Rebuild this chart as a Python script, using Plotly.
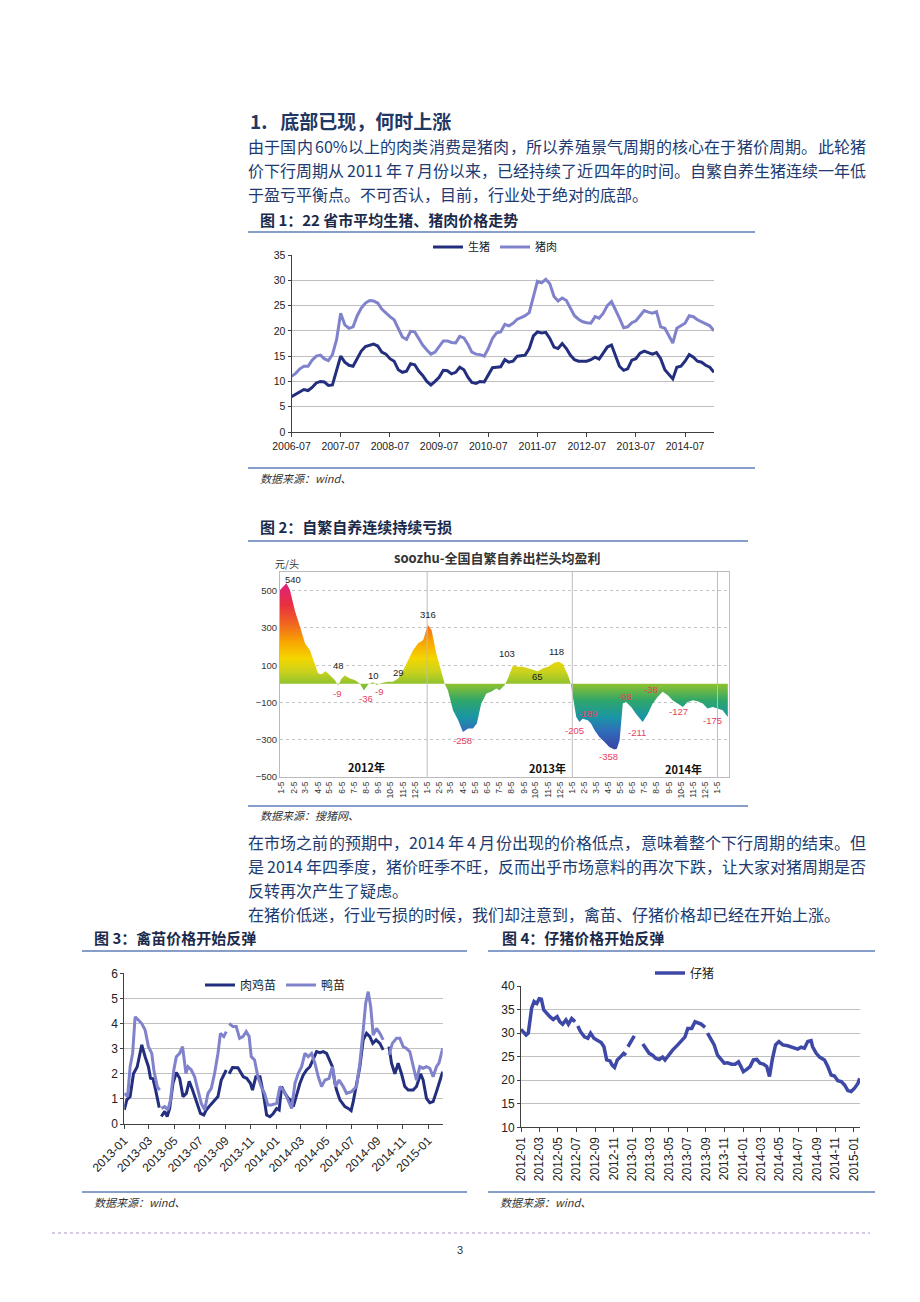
import plotly.graph_objects as go
import pandas as pd

W, H = 920, 1302
CJK = "Noto Sans CJK SC"
LAT = "Liberation Sans, Arial, sans-serif"
NAVY = "#1F3864"
BODY = "#203A70"
DARK = "#232E7E"
LIGHT = "#8083CC"

def fx(x):
    return x / W

def fy(y):
    return 1 - y / H

# ---------------- Figure 1: 22省市平均生猪、猪肉价格 ----------------
c1_months = pd.date_range("2006-07-01", periods=104, freq="MS")
c1_hog = [7.0, 7.5, 8.0, 8.4, 8.2, 8.8, 9.7, 10.0, 9.9, 9.2,
          9.3, 12.3, 15.0, 13.8, 13.2, 13.0, 14.5, 16.0, 16.9, 17.1,
          17.4, 17.0, 15.8, 15.4, 14.5, 14.0, 12.3, 11.8, 12.0, 13.5,
          13.3, 12.0, 11.2, 10.0, 9.3, 10.0, 10.8, 12.2, 12.1, 11.5,
          11.8, 12.8, 12.3, 10.8, 9.8, 9.6, 10.0, 9.9, 11.2, 12.7,
          12.8, 12.9, 14.3, 13.8, 14.0, 15.0, 15.1, 15.2, 16.5, 19.0,
          19.8, 19.6, 19.7, 18.5, 16.8, 16.5, 17.5, 16.5, 15.2, 14.3,
          14.0, 14.0, 14.0, 14.3, 14.8, 14.4, 15.5, 16.8, 17.2, 15.0,
          13.0, 12.2, 12.5, 14.2, 14.5, 15.6, 16.0, 15.7, 15.4, 15.7,
          14.5, 12.3, 11.5, 10.5, 12.8, 13.0, 14.0, 15.3, 14.8, 14.0,
          13.8, 13.2, 12.8, 11.8]
c1_pork = [11.0, 11.6, 12.5, 13.0, 13.0, 14.2, 15.0, 15.2, 14.5, 14.1,
           15.3, 18.3, 23.5, 21.2, 20.5, 20.8, 23.0, 24.5, 25.5, 26.0,
           25.9, 25.5, 24.3, 23.5, 22.8, 22.2, 20.5, 18.8, 18.3, 19.9,
           19.8, 18.5, 17.2, 16.2, 15.4, 15.8, 16.8, 18.0, 18.0, 17.7,
           17.6, 18.9, 18.6, 17.3, 15.8, 15.4, 15.3, 15.0, 16.5, 18.5,
           19.6, 19.8, 21.3, 21.0, 21.5, 22.3, 22.6, 23.0, 23.6, 27.0,
           29.8, 29.5, 30.2, 29.3, 26.8, 25.9, 26.5, 26.0, 24.5, 23.0,
           22.3, 21.8, 21.6, 21.5, 22.8, 22.5, 23.5, 25.0, 25.8, 24.2,
           22.5, 20.6, 20.8, 21.6, 22.0, 23.0, 24.0, 23.7, 23.5, 23.8,
           20.8, 20.5, 19.0, 17.6, 20.5, 21.0, 21.5, 23.0, 22.8, 22.2,
           21.8, 21.4, 21.0, 20.0]

# ---------------- Figure 2: 自繁自养头均盈利 ----------------
c2_dates = ["2012-01-01", "2012-01-17", "2012-01-26", "2012-02-07", "2012-02-20", "2012-03-04",
            "2012-03-16", "2012-03-29", "2012-04-06", "2012-04-14", "2012-04-25", "2012-05-05",
            "2012-05-18", "2012-05-26", "2012-06-04", "2012-06-12", "2012-06-25", "2012-07-07",
            "2012-07-20", "2012-07-30", "2012-08-10", "2012-08-22", "2012-08-31", "2012-09-12",
            "2012-09-29", "2012-10-11", "2012-10-24", "2012-11-06", "2012-11-18", "2012-12-01",
            "2012-12-13", "2012-12-26", "2013-01-07", "2013-01-16", "2013-01-28", "2013-02-10",
            "2013-02-18", "2013-02-26", "2013-03-11", "2013-03-24", "2013-04-05", "2013-04-18",
            "2013-04-30", "2013-05-10", "2013-05-21", "2013-06-03", "2013-06-15", "2013-06-28",
            "2013-07-06", "2013-07-19", "2013-07-27", "2013-08-09", "2013-08-21", "2013-09-03",
            "2013-09-15", "2013-09-28", "2013-10-10", "2013-10-23", "2013-11-05", "2013-11-21",
            "2013-12-02", "2013-12-12", "2013-12-25", "2014-01-01", "2014-01-06", "2014-01-15",
            "2014-01-23", "2014-01-31", "2014-02-13", "2014-02-21", "2014-03-02", "2014-03-14",
            "2014-03-27", "2014-04-08", "2014-04-21", "2014-04-27", "2014-05-04", "2014-05-12",
            "2014-05-20", "2014-06-02", "2014-06-14", "2014-07-01", "2014-07-14", "2014-07-26",
            "2014-08-08", "2014-08-20", "2014-09-02", "2014-09-14", "2014-09-27", "2014-10-10",
            "2014-10-22", "2014-11-04", "2014-11-16", "2014-11-29", "2014-12-11", "2014-12-24",
            "2015-01-05", "2015-01-18", "2015-01-31"]
c2_profit = [504, 540, 504, 396, 307, 217, 181, 109, 56, 52,
             68, 47, 20, -9, 29, 45, 29, 20, 2, -36,
             -2, 8, -7, 5, 11, 11, 29, 74, 127, 181,
             217, 235, 316, 289, 163, 56, 0, -34, -142, -196,
             -258, -240, -240, -213, -106, -52, -43, -25, -34, -7,
             29, 100, 91, 91, 83, 74, 68, 83, 91, 113,
             118, 106, 47, 0, -70, -178, -205, -187, -196, -213,
             -249, -285, -312, -339, -353, -348, -303, -106, -97, -124,
             -160, -205, -160, -106, -70, -43, -61, -88, -106, -124,
             -97, -88, -93, -106, -133, -124, -133, -142, -178]
c2_label_dates = ["2012-01-17", "2012-05-26", "2012-06-12", "2012-07-30", "2012-08-22",
                  "2012-08-31", "2012-10-24", "2013-01-07", "2013-04-05", "2013-08-09",
                  "2013-10-10", "2013-12-02", "2014-01-23", "2014-02-13", "2014-04-21",
                  "2014-05-20", "2014-07-01", "2014-08-20", "2014-10-10", "2015-01-31"]
c2_label_vals = [540, -9, 48, -36, 10, -9, 29, 316, -258, 103,
                 65, 118, -205, -189, -358, -98, -211, -38, -127, -175]
c2_label_offsets = [(7, -4), (-1, 8), (-6, -9), (2, 8), (0, -6), (2, 6), (0, -6), (0, -10),
                    (0, 9), (-6, -11), (0, 5), (-2, -10), (-5, 8), (0, -6), (-6, 6),
                    (-1, -6), (-6, 9), (-12, -1), (-4, 4), (-15, 4)]
c2_tick_dates = pd.date_range("2012-01-01", periods=38, freq="MS") + pd.Timedelta(days=4)
c2_tick_text = [f"{d.month}-5" for d in c2_tick_dates]
c2_year_bounds = ["2013-01-05", "2014-01-05", "2015-01-05"]
c2_year_labels = ["2012年", "2013年", "2014年"]

# ---------------- Figure 3: 禽苗价格 ----------------
broiler_dates = ["2013-01-01", "2013-01-07", "2013-01-15", "2013-01-23", "2013-02-01", "2013-02-12",
                 "2013-02-20", "2013-02-28", "2013-03-05", "2013-03-11", "2013-03-18", "2013-03-26",
                 "2013-03-29", "2013-03-31", "2013-04-08", "2013-04-14", "2013-04-20", "2013-04-28",
                 "2013-05-06", "2013-05-14", "2013-05-22", "2013-05-30", "2013-06-06", "2013-06-14",
                 "2013-06-23", "2013-07-03", "2013-07-11", "2013-07-17", "2013-07-27", "2013-08-06",
                 "2013-08-14", "2013-08-22", "2013-08-30", "2013-09-03", "2013-09-06", "2013-09-10",
                 "2013-09-18", "2013-10-01", "2013-10-14", "2013-10-22", "2013-10-31", "2013-11-05",
                 "2013-11-13", "2013-11-23", "2013-12-01", "2013-12-09", "2013-12-17", "2013-12-25",
                 "2014-01-02", "2014-01-08", "2014-01-14", "2014-01-22", "2014-01-30", "2014-02-05",
                 "2014-02-11", "2014-02-19", "2014-02-27", "2014-03-07", "2014-03-15", "2014-03-23",
                 "2014-03-31", "2014-04-08", "2014-04-16", "2014-04-24", "2014-05-02", "2014-05-08",
                 "2014-05-16", "2014-05-22", "2014-05-26", "2014-06-03", "2014-06-15", "2014-06-23",
                 "2014-06-30", "2014-07-05", "2014-07-13", "2014-07-21", "2014-07-29", "2014-08-06",
                 "2014-08-14", "2014-08-21", "2014-08-29", "2014-09-07", "2014-09-15", "2014-09-20",
                 "2014-09-29", "2014-10-05", "2014-10-13", "2014-10-21", "2014-10-29", "2014-11-06",
                 "2014-11-14", "2014-11-26", "2014-12-04", "2014-12-14", "2014-12-20", "2014-12-28",
                 "2015-01-05", "2015-01-13", "2015-01-21", "2015-02-05"]
broiler_vals = [0.56, 0.96, 1.09, 2.0, 2.28, 3.15, 2.68, 2.28, 1.82, 1.80,
                1.3, 0.65, None, 0.3, 0.5, 0.3, 0.62, 1.62, 2.05, 1.82,
                1.09, 1.22, 1.7, 1.35, 0.89, 0.42, 0.36, 0.56, 0.76, 0.96,
                1.09, 1.75, 2.0, 2.15, None, 2.0, 2.25, 2.24, 1.88, 1.82,
                1.62, 1.35, 1.88, 1.88, 1.22, 0.36, 0.29, 0.42, 0.62, 0.56,
                1.49, 1.22, 1.02, 0.96, 0.69, 1.15, 1.62, 1.95, 2.15, 2.28,
                2.55, 2.88, 2.84, 2.88, 2.81, 2.55, 2.28, 1.62, 1.35, 0.96,
                0.69, 0.62, 0.53, 0.89, 1.62, 2.28, 3.35, 3.61, 3.48, 3.21,
                3.35, 3.21, 2.95, None, 3.08, 2.42, 2.0, 2.42, 2.0, 1.49,
                1.35, 1.35, 1.49, 2.0, 1.75, 1.02, 0.85, 0.89, 1.29, 2.08]
duck_dates = ["2013-01-01", "2013-01-09", "2013-01-15", "2013-01-21", "2013-01-27", "2013-02-04",
              "2013-02-12", "2013-02-20", "2013-02-28", "2013-03-08", "2013-03-13", "2013-03-21",
              "2013-03-27", "2013-03-29", "2013-03-31", "2013-04-08", "2013-04-16", "2013-04-22",
              "2013-04-30", "2013-05-06", "2013-05-14", "2013-05-21", "2013-05-29", "2013-06-03",
              "2013-06-11", "2013-06-19", "2013-06-27", "2013-07-05", "2013-07-13", "2013-07-21",
              "2013-07-29", "2013-08-06", "2013-08-14", "2013-08-20", "2013-08-28", "2013-09-03",
              "2013-09-06", "2013-09-10", "2013-09-19", "2013-09-27", "2013-10-05", "2013-10-13",
              "2013-10-21", "2013-10-28", "2013-11-02", "2013-11-10", "2013-11-18", "2013-11-26",
              "2013-12-04", "2013-12-12", "2013-12-20", "2014-01-02", "2014-01-10", "2014-01-18",
              "2014-01-26", "2014-02-07", "2014-02-15", "2014-02-23", "2014-03-03", "2014-03-11",
              "2014-03-19", "2014-03-27", "2014-04-04", "2014-04-12", "2014-04-20", "2014-04-28",
              "2014-05-08", "2014-05-16", "2014-05-24", "2014-06-01", "2014-06-11", "2014-06-19",
              "2014-07-01", "2014-07-13", "2014-07-21", "2014-07-29", "2014-08-04", "2014-08-10",
              "2014-08-16", "2014-08-22", "2014-08-30", "2014-09-07", "2014-09-15", "2014-09-20",
              "2014-09-29", "2014-10-07", "2014-10-17", "2014-10-25", "2014-11-02", "2014-11-10",
              "2014-11-18", "2014-11-26", "2014-12-04", "2014-12-12", "2014-12-20", "2014-12-28",
              "2015-01-05", "2015-01-13", "2015-01-21", "2015-01-27", "2015-02-05"]
duck_vals = [1.22, 1.09, 2.28, 2.81, 4.27, 4.14, 4.0, 3.74, 3.08, 2.81,
             2.15, 1.49, 1.35, None, 0.62, 0.69, 0.56, 0.96, 2.15, 2.68,
             2.81, 3.08, 2.02, 2.28, 2.15, 1.88, 1.35, 0.82, 0.56, 1.22,
             1.42, 2.02, 2.81, 3.61, 3.48, 3.68, None, 4.0, 3.88, 3.88,
             3.41, 3.48, 3.68, 3.48, 2.68, 2.55, 1.88, 1.49, 1.22, 0.76,
             0.76, 0.82, 1.49, 1.35, 1.09, 0.62, 1.62, 2.02, 2.28, 2.81,
             2.68, 2.81, 2.42, 1.88, 1.49, 1.75, 1.82, 2.28, 1.49, 1.75,
             1.49, 1.22, 1.29, 1.49, 2.42, 3.74, 4.81, 5.27, 4.67, 3.54,
             3.81, 3.61, 3.35, None, 2.75, 3.21, 3.41, 3.41, 3.08, 3.01,
             2.88, 2.28, 1.75, 2.28, 2.22, 2.28, 2.22, 1.88, 2.28, 2.42,
             3.01]

# ---------------- Figure 4: 仔猪价格 ----------------
piglet_dates = ["2012-01-01", "2012-01-09", "2012-01-18", "2012-01-25", "2012-01-31", "2012-02-05",
                "2012-02-13", "2012-02-22", "2012-03-01", "2012-03-08", "2012-03-16", "2012-03-25",
                "2012-04-05", "2012-04-16", "2012-04-29", "2012-05-08", "2012-05-17", "2012-05-28",
                "2012-06-05", "2012-06-16", "2012-06-27", "2012-07-01", "2012-07-06", "2012-07-15",
                "2012-07-28", "2012-08-08", "2012-08-17", "2012-08-28", "2012-09-08", "2012-09-21",
                "2012-09-30", "2012-10-09", "2012-10-20", "2012-10-27", "2012-11-04", "2012-11-13",
                "2012-11-24", "2012-12-04", "2012-12-12", "2012-12-15", "2012-12-18", "2012-12-28",
                "2013-01-08", "2013-01-20", "2013-02-05", "2013-02-15", "2013-02-26", "2013-03-09",
                "2013-03-20", "2013-03-31", "2013-04-11", "2013-04-19", "2013-04-30", "2013-05-14",
                "2013-05-31", "2013-06-11", "2013-06-24", "2013-07-03", "2013-07-16", "2013-07-27",
                "2013-08-05", "2013-08-16", "2013-08-29", "2013-09-02", "2013-09-06", "2013-09-17",
                "2013-09-28", "2013-10-09", "2013-10-20", "2013-10-31", "2013-11-11", "2013-11-24",
                "2013-12-06", "2013-12-17", "2013-12-25", "2014-01-02", "2014-01-13", "2014-01-24",
                "2014-02-04", "2014-02-15", "2014-02-26", "2014-03-09", "2014-03-20", "2014-03-29",
                "2014-04-07", "2014-04-18", "2014-04-29", "2014-05-12", "2014-05-28", "2014-06-14",
                "2014-06-30", "2014-07-11", "2014-07-22", "2014-08-02", "2014-08-13", "2014-08-18",
                "2014-08-30", "2014-09-10", "2014-09-26", "2014-10-07", "2014-10-18", "2014-10-29",
                "2014-11-09", "2014-11-20", "2014-12-01", "2014-12-12", "2014-12-23", "2015-01-03",
                "2015-01-14", "2015-01-20"]
piglet_vals = [30.8, 30.1, 29.6, 30.0, 32.8, 35.3, 36.7, 36.3, 37.3, 37.2,
               34.9, 34.2, 33.5, 32.9, 33.5, 32.4, 31.9, 32.8, 31.9, 33.1,
               32.4, None, 31.5, 30.3, 29.2, 28.9, 30.0, 28.9, 28.5, 28.0,
               27.1, 24.3, 24.1, 23.2, 22.7, 24.3, 25.0, 25.7, 25.3, None,
               27.1, 28.2, 29.4, None, 27.7, 26.8, 25.7, 25.3, 24.6, 24.4,
               24.9, 24.3, 25.3, 26.4, 27.5, 28.4, 29.2, 31.0, 31.0, 32.4,
               32.1, 31.9, 31.2, None, 30.0, 28.9, 27.5, 25.3, 24.3, 23.6,
               23.7, 23.4, 23.4, 23.9, 22.9, 21.8, 22.3, 22.9, 24.3, 24.4,
               23.6, 23.4, 22.9, 20.8, 24.3, 27.5, 28.2, 27.5, 27.3, 27.0,
               26.6, 27.0, 26.8, 28.2, 28.4, 27.1, 25.7, 24.9, 24.3, 22.9,
               21.1, 20.9, 19.9, 19.7, 19.0, 17.8, 17.6, 18.3, 19.3, 20.4]

# ---------------- Text ----------------
heading = "1.\u00a0\u00a0\u00a0底部已现，何时上涨"
para1 = ["由于国内 60%以上的肉类消费是猪肉，所以养殖景气周期的核心在于猪价周期。此轮猪",
         "价下行周期从 2011 年 7 月份以来，已经持续了近四年的时间。自繁自养生猪连续一年低",
         "于盈亏平衡点。不可否认，目前，行业处于绝对的底部。"]
para1_justify = [True, True, False]
para2 = ["在市场之前的预期中，2014 年 4 月份出现的价格低点，意味着整个下行周期的结束。但",
         "是 2014 年四季度，猪价旺季不旺，反而出乎市场意料的再次下跌，让大家对猪周期是否",
         "反转再次产生了疑虑。",
         "在猪价低迷，行业亏损的时候，我们却注意到，禽苗、仔猪价格却已经在开始上涨。"]
para2_justify = [True, True, False, False]

fig = go.Figure()

fig.add_trace(go.Scatter(x=c1_months, y=c1_hog, name="生猪", mode="lines",
                         line=dict(color=DARK, width=3), xaxis="x", yaxis="y", legend="legend"))
fig.add_trace(go.Scatter(x=c1_months, y=c1_pork, name="猪肉", mode="lines",
                         line=dict(color=LIGHT, width=3), xaxis="x", yaxis="y", legend="legend"))

grad = [[0.0, "#3C3FA6"], [0.12, "#2F6DB8"], [0.2, "#1A95A6"], [0.3, "#2FA66A"],
        [0.4, "#8FC22E"], [0.47, "#C9D21E"], [0.55, "#F4D600"], [0.65, "#F8A600"],
        [0.76, "#F06420"], [0.87, "#E83040"], [1.0, "#E0207E"]]
fig.add_trace(go.Scatter(x=c2_dates, y=c2_profit, mode="lines", fill="tozeroy",
                         line=dict(width=0, color="rgba(0,0,0,0)"),
                         fillgradient=dict(type="vertical", colorscale=grad, start=-360, stop=540),
                         xaxis="x2", yaxis="y2", showlegend=False, hoverinfo="skip"))

fig.add_trace(go.Scatter(x=broiler_dates, y=broiler_vals, name="肉鸡苗", mode="lines",
                         line=dict(color=DARK, width=3), xaxis="x3", yaxis="y3", legend="legend2"))
fig.add_trace(go.Scatter(x=duck_dates, y=duck_vals, name="鸭苗", mode="lines",
                         line=dict(color=LIGHT, width=3), xaxis="x3", yaxis="y3", legend="legend2"))

fig.add_trace(go.Scatter(x=piglet_dates, y=piglet_vals, name="仔猪", mode="lines",
                         line=dict(color="#3E48A6", width=3.5), xaxis="x4", yaxis="y4", legend="legend3"))

annotations = []

def text(x, y, s, size, color=NAVY, bold=False, italic=False, xanchor="left", family=CJK):
    if bold:
        s = f"<b>{s}</b>"
    if italic:
        s = f"<i>{s}</i>"
    annotations.append(dict(x=fx(x), y=fy(y), xref="paper", yref="paper", text=s,
                            showarrow=False, xanchor=xanchor, yanchor="middle",
                            font=dict(family=family, size=size, color=color)))

def body_line(s, x0, x1, y, size, justify):
    """Lay out a line token by token; justified lines are spread to x1."""
    tokens = []
    buf = ""

    def flush():
        nonlocal buf
        if buf:
            w = sum(0.85 if c == "%" else 0.55 for c in buf)
            tokens.append((buf, w))
            buf = ""

    for ch in s:
        if ch == " ":
            flush()
            tokens.append((None, 0.2))
        elif ord(ch) < 128:
            buf += ch
        else:
            flush()
            tokens.append((ch, 1.0))
    flush()
    natural = sum(w for _, w in tokens) * size
    gap = (x1 - x0 - natural) / (len(tokens) - 1) if justify else 0.0
    pos = x0
    for t, w in tokens:
        wpx = w * size
        if t is not None:
            text(pos + wpx / 2, y, t, size, BODY, xanchor="center")
        pos += wpx + gap

text(248, 120, heading, 19, NAVY, bold=True)
for i, (line, j) in enumerate(zip(para1, para1_justify)):
    body_line(line, 248, 866, 146 + 24 * i, 16, j)
text(258, 219, "图 1：22 省市平均生猪、猪肉价格走势", 15, "#1B2A4A", bold=True)
text(258, 478, "数据来源：wind、", 11, "#333333", italic=True)
text(258, 526, "图 2：自繁自养连续持续亏损", 15, "#1B2A4A", bold=True)
text(497, 557, "soozhu-全国自繁自养出栏头均盈利", 13, "#333333", bold=True, xanchor="center")
text(287, 563, "元/头", 10, "#333333", xanchor="center")
text(258, 815, "数据来源：搜猪网、", 11, "#333333", italic=True)
for i, (line, j) in enumerate(zip(para2, para2_justify)):
    body_line(line, 248, 866, 842 + 24 * i, 16, j)
text(92, 937, "图 3：禽苗价格开始反弹", 15, "#1B2A4A", bold=True)
text(500, 937, "图 4：仔猪价格开始反弹", 15, "#1B2A4A", bold=True)
text(92, 1202, "数据来源：wind、", 11, "#333333", italic=True)
text(498, 1202, "数据来源：wind、", 11, "#333333", italic=True)
text(460, 1250, "3", 11, "#333333", xanchor="center", family=LAT)

for lab, (xx, yy) in zip(c2_year_labels, [(366, 767), (547, 768), (683, 769)]):
    text(xx, yy, lab, 11, "#111111", bold=True, xanchor="center")

for d, v, (dx, dy) in zip(c2_label_dates, c2_label_vals, c2_label_offsets):
    annotations.append(dict(x=d, y=v, xref="x2", yref="y2", text=str(v), showarrow=False,
                            xshift=dx, yshift=-dy, xanchor="center", yanchor="middle",
                            font=dict(family=LAT, size=9.5,
                                      color="#E8405E" if v < 0 else "#222222")))

shapes = []
RULE = "#5F7CB8"
for (x0, x1, y) in [(248, 755, 232), (248, 755, 468), (248, 748, 541), (248, 748, 806),
                    (82, 467, 951), (82, 467, 1192), (488, 875, 951), (488, 875, 1192)]:
    shapes.append(dict(type="line", xref="paper", yref="paper", x0=fx(x0), x1=fx(x1),
                       y0=fy(y), y1=fy(y), line=dict(color=RULE, width=1.5)))
shapes.append(dict(type="line", xref="paper", yref="paper", x0=fx(52), x1=fx(870),
                   y0=fy(1233), y1=fy(1233), line=dict(color="#C9B8DA", width=1.5, dash="dot")))
for d in c2_year_bounds:
    shapes.append(dict(type="line", xref="x2", yref="y2 domain", x0=d, x1=d, y0=0, y1=1,
                       line=dict(color="#BDBDBD", width=1)))

tick_font = dict(family=LAT, size=10.5, color="#222222")
axis_common = dict(showline=True, linecolor="#404040", linewidth=1, zeroline=False,
                   automargin=False)

fig.update_layout(
    width=W, height=H, margin=dict(l=0, r=0, t=0, b=0, pad=0, autoexpand=False),
    paper_bgcolor="white", plot_bgcolor="white",
    annotations=annotations, shapes=shapes,
    xaxis=dict(domain=[fx(291.5), fx(714)], anchor="y", type="date",
               range=["2006-07-01", "2015-02-01"], dtick="M12", tick0="2006-07-01",
               tickformat="%Y-%m", showgrid=False, ticks="outside", ticklen=4,
               tickcolor="#404040", tickfont=tick_font, **axis_common),
    yaxis=dict(domain=[fy(432), fy(255)], anchor="x", range=[0, 35], dtick=5,
               showgrid=True, gridcolor="#BFBFBF", ticks="outside", ticklen=3,
               tickcolor="#404040", tickfont=tick_font, **axis_common),
    xaxis2=dict(domain=[fx(280), fx(729)], anchor="y2", type="date",
                range=["2012-01-01", "2015-02-03"], tickmode="array",
                tickvals=list(c2_tick_dates), ticktext=c2_tick_text, tickangle=-90,
                showgrid=False, showline=True, linecolor="#BBBBBB", mirror=True,
                zeroline=False, ticks="", automargin=False,
                tickfont=dict(family=LAT, size=8.5, color="#333333")),
    yaxis2=dict(domain=[fy(777), fy(572)], anchor="x2", range=[-500, 600],
                tickmode="array", tickvals=[-500, -300, -100, 100, 300, 500],
                showgrid=True, gridcolor="#C4C4C4", griddash="dot",
                showline=True, linecolor="#BBBBBB", mirror=True, zeroline=False,
                automargin=False,
                tickfont=dict(family=LAT, size=9.5, color="#333333")),
    xaxis3=dict(domain=[fx(124.3), fx(442.7)], anchor="y3", type="date",
                range=["2013-01-01", "2015-02-05"], dtick="M2", tick0="2013-01-01",
                tickformat="%Y-%m", tickangle=-45, showgrid=False, ticks="outside",
                ticklen=4, tickcolor="#404040",
                tickfont=dict(family=LAT, size=12, color="#222222"), **axis_common),
    yaxis3=dict(domain=[fy(1124), fy(973.3)], anchor="x3", range=[0, 6], dtick=1,
                showgrid=True, gridcolor="#C0C0C0", ticks="outside", ticklen=3,
                tickcolor="#404040",
                tickfont=dict(family=LAT, size=12, color="#222222"), **axis_common),
    xaxis4=dict(domain=[fx(521), fx(860)], anchor="y4", type="date",
                range=["2012-01-01", "2015-01-21"], dtick="M2", tick0="2012-01-01",
                tickformat="%Y-%m", tickangle=-90, showgrid=False, ticks="outside",
                ticklen=4, tickcolor="#404040",
                tickfont=dict(family=LAT, size=12, color="#222222"), **axis_common),
    yaxis4=dict(domain=[fy(1127.3), fy(986)], anchor="x4", range=[10, 40], dtick=5,
                showgrid=True, gridcolor="#C0C0C0", ticks="outside", ticklen=3,
                tickcolor="#404040",
                tickfont=dict(family=LAT, size=12, color="#222222"), **axis_common),
    legend=dict(x=fx(428), y=fy(247), xanchor="left", yanchor="middle", orientation="h",
                bgcolor="rgba(0,0,0,0)", font=dict(family=CJK, size=11, color="#222222")),
    legend2=dict(x=fx(200), y=fy(985), xanchor="left", yanchor="middle", orientation="h",
                 bgcolor="rgba(0,0,0,0)", font=dict(family=CJK, size=12, color="#222222")),
    legend3=dict(x=fx(650), y=fy(973), xanchor="left", yanchor="middle", orientation="h",
                 bgcolor="rgba(0,0,0,0)", font=dict(family=CJK, size=12, color="#222222")),
)

fig.write_html("out.html")
